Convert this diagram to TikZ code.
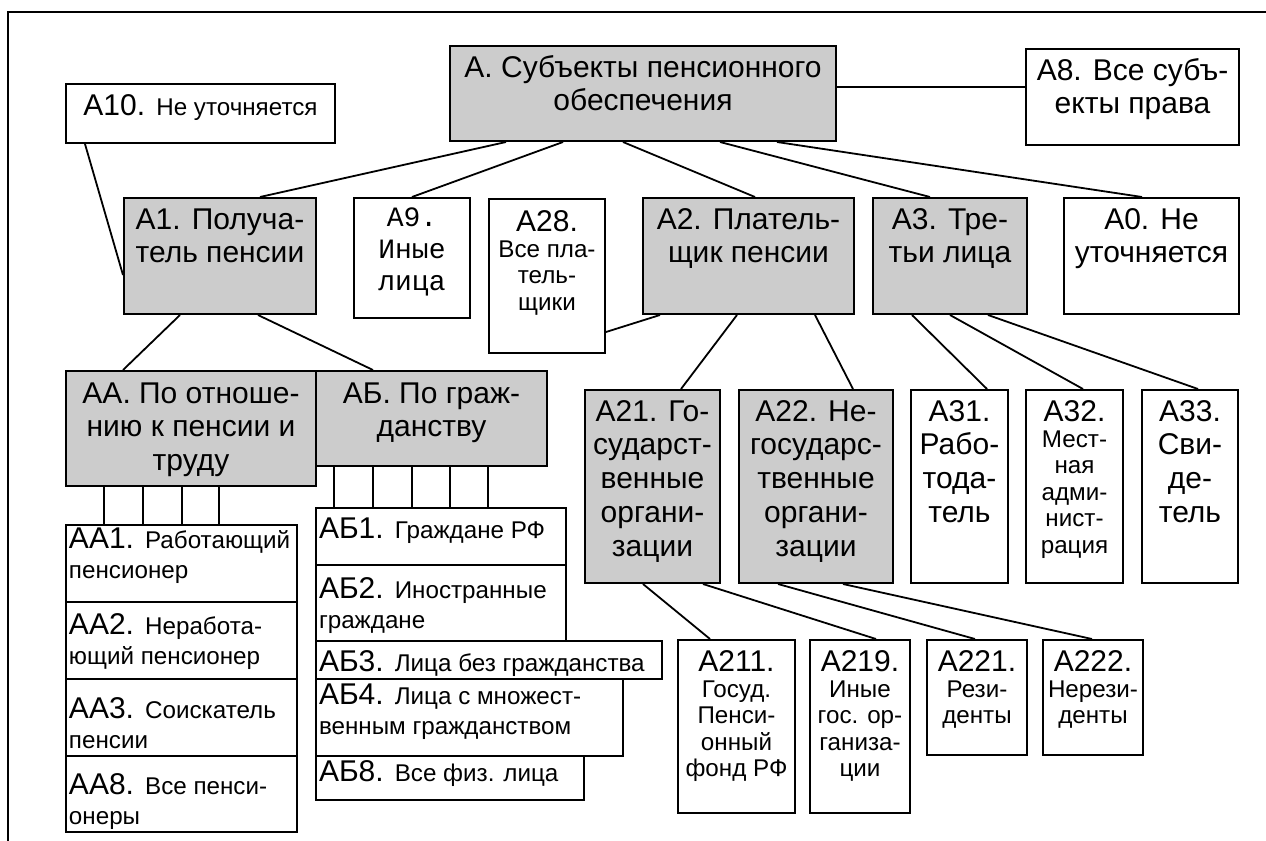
\documentclass[tikz,border=0pt]{standalone}
\usepackage{fontspec}
\setmainfont{Liberation Sans}
\newfontfamily\courierfont{Liberation Mono}
\usetikzlibrary{calc}
\definecolor{shade}{HTML}{CCCCCC}
\newdimen\pxu \pxu=0.5pt
\newcommand{\bigtxt}{\fontsize{15}{16.9}\selectfont}
\newcommand{\smtxt}{\fontsize{12.1}{13.2}\selectfont}
\newcommand{\lsm}{\fontsize{12.1}{15.3}\selectfont}
\newcommand{\monotxt}{\courierfont\fontsize{14}{16}\selectfont}
% centred / left text boxes: [first baseline]{width}{height}{text}, in pixels
\newcommand{\cbox}[4][31]{\parbox[t][#3\pxu][t]{#2\pxu}{\centering\rule{0pt}{#1\pxu}#4}}
\newcommand{\lbox}[4][30]{\parbox[t][#3\pxu][t]{#2\pxu}{\raggedright\leftskip=1.5pt\rule{0pt}{#1\pxu}#4}}

\begin{document}
\begin{tikzpicture}[x=0.5pt,y=-0.5pt,
  box/.style={draw,line width=1pt,inner sep=0pt,anchor=north west,font=\bigtxt},
  grey/.style={box,fill=shade},
  plain/.style={box,fill=white},
  link/.style={line width=0.9pt}]
\useasboundingbox (0,0) rectangle (1266,841);
\draw[line width=1pt] (1266,12) -| (8,841);

% top level
\node[grey] (a) at (449,45) {\cbox{386}{95}{А. Субъекты пенсионного\\обеспечения}};
\node[plain] (a8) at (1025,48) {\cbox{213}{96}{А8. Все субъ-\\екты права}};
\node[plain] (a10) at (65,83) {\cbox{269}{59}{А10. \smtxt Не уточняется}};

% second level
\node[grey] (a1) at (123,197) {\cbox{192}{116}{А1. Получа-\\тель пенсии}};
\node[plain] (a9) at (353,197) {\cbox[28]{116}{120}{\monotxt А9.\\Иные\\лица}};
\node[plain] (a28) at (488,198) {\cbox[32]{116}{154}{А28.\\\smtxt Все пла-\\тель-\\щики}};
\node[grey] (a2) at (642,197) {\cbox{211}{116}{А2. Платель-\\щик пенсии}};
\node[grey] (a3) at (872,197) {\cbox{154}{116}{А3. Тре-\\тьи лица}};
\node[plain] (a0) at (1063,197) {\cbox{175}{116}{А0. Не\\уточняется}};

% recipients
\node[grey] (aa) at (65,370) {\cbox[32]{250}{115}{АА. По отноше-\\нию к пенсии и\\труду}};
\node[grey] (ab) at (315,370) {\cbox[32]{231}{95}{АБ. По граж-\\данству}};
\node[plain] (aa1) at (65,524) {\lbox[23]{231}{77}{АА1. \lsm Работающий\\пенсионер}};
\node[plain] (aa2) at (65,601) {\lbox[32]{231}{77}{АА2. \lsm Неработа-\\ющий пенсионер}};
\node[plain] (aa3) at (65,678) {\lbox[39]{231}{77}{АА3. \lsm Соискатель\\пенсии}};
\node[plain] (aa8) at (65,755) {\lbox[38]{231}{76}{АА8. \lsm Все пенси-\\онеры}};
\node[plain] (ab1) at (315,507) {\lbox[30]{250}{57}{АБ1. \lsm Граждане РФ}};
\node[plain] (ab2) at (315,564) {\lbox[33]{250}{76}{АБ2. \lsm Иностранные\\граждане}};
\node[plain] (ab3) at (315,640) {\lbox[30]{346}{38}{АБ3. \lsm Лица без гражданства}};
\node[plain] (ab4) at (315,678) {\lbox[25]{307}{77}{АБ4. \lsm Лица с множест-\\венным гражданством}};
\node[plain] (ab8) at (315,755) {\lbox[25]{268}{44}{АБ8. \lsm Все физ. лица}};

% payers and third parties
\node[grey] (a21) at (584,389) {\cbox{135}{193}{А21. Го-\\сударст-\\венные\\органи-\\зации}};
\node[grey] (a22) at (738,389) {\cbox{154}{193}{А22. Не-\\государс-\\твенные\\органи-\\зации}};
\node[plain] (a31) at (910,389) {\cbox{97}{193}{А31.\\Рабо-\\тода-\\тель}};
\node[plain] (a32) at (1025,389) {\cbox{97}{193}{А32.\\\smtxt Мест-\\ная\\адми-\\нист-\\рация}};
\node[plain] (a33) at (1141,389) {\cbox{96}{193}{А33.\\Сви-\\де-\\тель}};
\node[plain] (a211) at (677,639) {\cbox{117}{173}{А211.\\\smtxt Госуд.\\Пенси-\\онный\\фонд РФ}};
\node[plain] (a219) at (809,639) {\cbox{100}{173}{А219.\\\smtxt Иные\\гос. ор-\\ганиза-\\ции}};
\node[plain] (a221) at (926,639) {\cbox{100}{115}{А221.\\\smtxt Рези-\\денты}};
\node[plain] (a222) at (1042,639) {\cbox{100}{115}{А222.\\\smtxt Нерези-\\денты}};

% connectors
\draw[link] ($(a.north east)+(0,42)$) coordinate (t) -- (t -| a8.west);
\draw[link] ($(a.south west)+(57,0)$) -- ($(a1.north west)+(137,0)$);
\draw[link] ($(a.south west)+(114,0)$) -- ($(a9.north west)+(59,0)$);
\draw[link] ($(a.south west)+(174,0)$) -- ($(a2.north west)+(113,0)$);
\draw[link] ($(a.south west)+(271,0)$) -- ($(a3.north west)+(58,0)$);
\draw[link] ($(a.south west)+(328,0)$) -- ($(a0.north west)+(79,0)$);
\draw[link] ($(a10.south west)+(20,0)$) -- ($(a1.north west)+(0,78)$);
\draw[link] ($(a1.south west)+(57,0)$) -- ($(aa.north west)+(58,0)$);
\draw[link] ($(a1.south west)+(135,0)$) -- ($(ab.north west)+(58,0)$);
\draw[link] ($(a28.north east)+(0,134)$) -- ($(a2.south west)+(18,0)$);
\draw[link] ($(a2.south west)+(95,0)$) -- ($(a21.north west)+(97,0)$);
\draw[link] ($(a2.south west)+(173,0)$) -- ($(a22.north west)+(115,0)$);
\draw[link] ($(a3.south west)+(40,0)$) -- ($(a31.north west)+(77,0)$);
\draw[link] ($(a3.south west)+(78,0)$) -- ($(a32.north west)+(58,0)$);
\draw[link] ($(a3.south west)+(116,0)$) -- ($(a33.north west)+(57,0)$);
\draw[link] ($(a21.south west)+(59,0)$) -- ($(a211.north west)+(33,0)$);
\draw[link] ($(a21.south west)+(119,0)$) -- ($(a219.north west)+(67,0)$);
\draw[link] ($(a22.south west)+(40,0)$) -- ($(a221.north west)+(49,0)$);
\draw[link] ($(a22.south west)+(105,0)$) -- ($(a222.north west)+(50,0)$);
\foreach \d in {39,78,117,154}
  \draw[link] ($(aa.south west)+(\d,0)$) coordinate (t) -- (t |- aa1.north);
\foreach \d in {19,58,97,135,173}
  \draw[link] ($(ab.south west)+(\d,0)$) coordinate (t) -- (t |- ab1.north);
\end{tikzpicture}
\end{document}
